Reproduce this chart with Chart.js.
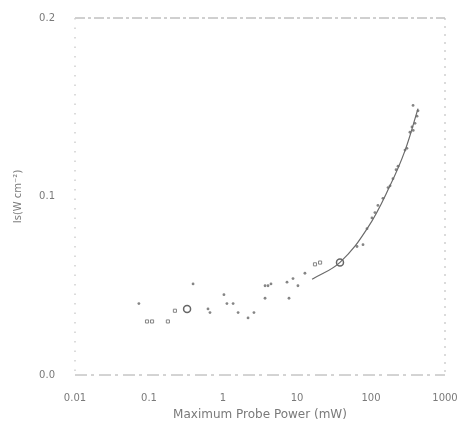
<!DOCTYPE html>
<html>
<head>
<meta charset="utf-8">
<script src="https://cdn.jsdelivr.net/npm/chart.js@4/dist/chart.umd.min.js"></script>
<style>
  body { margin: 0; background: #fff; }
  #wrap { width: 469px; height: 426px; }
</style>
</head>
<body>
<div id="wrap"><canvas id="myChart" width="469" height="426"></canvas></div>
<script>
// values
const dotPower = [0.073, 0.394, 0.627, 0.667, 1.03, 1.13, 1.37, 1.60, 2.18, 2.62, 3.70, 3.70, 4.06, 4.45, 7.33, 7.80, 8.83, 10.3, 12.8,
  64.7, 78.0, 88.3, 103, 113, 124, 145, 170, 181, 198, 218, 232, 288, 306, 336, 358, 372, 393, 419, 432, 370];
const dotIs = [0.040, 0.051, 0.037, 0.035, 0.045, 0.040, 0.040, 0.035, 0.032, 0.035, 0.043, 0.050, 0.050, 0.051, 0.052, 0.043, 0.054, 0.050, 0.057,
  0.072, 0.073, 0.082, 0.088, 0.091, 0.095, 0.099, 0.105, 0.106, 0.110, 0.115, 0.117, 0.126, 0.127, 0.136, 0.139, 0.137, 0.141, 0.145, 0.148, 0.151];

const squarePower = [0.094, 0.11, 0.18, 0.224, 17.5, 20.5];
const squareIs = [0.030, 0.030, 0.030, 0.036, 0.062, 0.063];

const circlePower = [0.327, 38.1];
const circleIs = [0.037, 0.063];

const fitPower = [16.0, 38.1, 91, 181, 288, 432];
const fitIs = [0.0536, 0.0631, 0.0827, 0.1061, 0.1257, 0.1492];

const xTicks = [0.01, 0.1, 1, 10, 100, 1000];
const xTickLabels = ['0.01', '0.1', '1', '10', '100', '1000'];
const yTicks = [0, 0.1, 0.2];
const yTickLabels = ['0.0', '0.1', '0.2'];

const toPoints = (xs, ys) => xs.map((x, i) => ({ x: x, y: ys[i] }));

const ink = '#858585';
const textColor = '#7a7a7a';
const fontFamily = '"DejaVu Sans", "Liberation Sans", sans-serif';

// faded, broken frame like the scan
const framePlugin = {
  id: 'frame',
  beforeDatasetsDraw(chart) {
    const { ctx, chartArea: a } = chart;
    const side = (x1, y1, x2, y2, color, dash, width) => {
      ctx.save();
      ctx.strokeStyle = color;
      ctx.lineWidth = width;
      ctx.setLineDash(dash);
      ctx.beginPath();
      ctx.moveTo(x1, y1);
      ctx.lineTo(x2, y2);
      ctx.stroke();
      ctx.restore();
    };
    side(a.left, a.top, a.right, a.top, '#a0a0a0', [10, 3, 3, 3], 1);
    side(a.left, a.bottom, a.right, a.bottom, '#a8a8a8', [12, 4, 3, 5], 1);
    side(a.left, a.top, a.left, a.bottom, '#d0d0d0', [1.5, 8], 1.5);
    side(a.right, a.top, a.right, a.bottom, '#c4c4c4', [2, 6], 1.2);
  },
};

const ctx = document.getElementById('myChart').getContext('2d');
new Chart(ctx, {
  type: 'scatter',
  data: {
    datasets: [
      {
        type: 'line',
        data: toPoints(fitPower, fitIs),
        borderColor: '#6a6a6a',
        borderWidth: 1.2,
        pointRadius: 0,
        tension: 0.4,
        fill: false,
      },
      {
        data: toPoints(dotPower, dotIs),
        pointStyle: 'circle',
        pointRadius: 1.4,
        backgroundColor: ink,
        borderColor: ink,
        borderWidth: 0,
      },
      {
        data: toPoints(squarePower, squareIs),
        pointStyle: 'rect',
        pointRadius: 2.2,
        backgroundColor: 'rgba(0,0,0,0)',
        borderColor: ink,
        borderWidth: 1,
      },
      {
        data: toPoints(circlePower, circleIs),
        pointStyle: 'circle',
        pointRadius: 3.5,
        backgroundColor: 'rgba(0,0,0,0)',
        borderColor: '#666',
        borderWidth: 1.5,
      },
    ],
  },
  options: {
    responsive: false,
    animation: false,
    layout: { padding: { top: 17, right: 24, left: 0, bottom: 0 } },
    plugins: {
      legend: { display: false },
      tooltip: { enabled: false },
    },
    scales: {
      x: {
        type: 'logarithmic',
        position: 'bottom',
        min: 0.01,
        max: 1000,
        afterBuildTicks: (scale) => { scale.ticks = xTicks.map(v => ({ value: v })); },
        afterFit: (scale) => { scale.height = 51; },
        ticks: {
          autoSkip: false,
          maxRotation: 0,
          padding: 9,
          color: textColor,
          font: { family: fontFamily, size: 10 },
          callback: (v) => xTickLabels[xTicks.indexOf(v)],
        },
        grid: { display: false },
        border: { display: false },
        title: {
          display: true,
          text: 'Maximum Probe Power (mW)',
          color: textColor,
          font: { family: fontFamily, size: 12 },
          padding: { top: 7 },
        },
      },
      y: {
        min: 0,
        max: 0.2,
        afterBuildTicks: (scale) => { scale.ticks = yTicks.map(v => ({ value: v })); },
        afterFit: (scale) => { scale.width = 75; },
        ticks: {
          padding: 12,
          color: textColor,
          font: { family: fontFamily, size: 10 },
          callback: (v) => yTickLabels[yTicks.indexOf(v)],
        },
        grid: { display: false },
        border: { display: false },
        title: {
          display: true,
          text: 'Is(W cm⁻²)',
          color: textColor,
          font: { family: fontFamily, size: 10 },
          padding: { top: 12, bottom: 0 },
        },
      },
    },
  },
  plugins: [framePlugin],
});
</script>
</body>
</html>
